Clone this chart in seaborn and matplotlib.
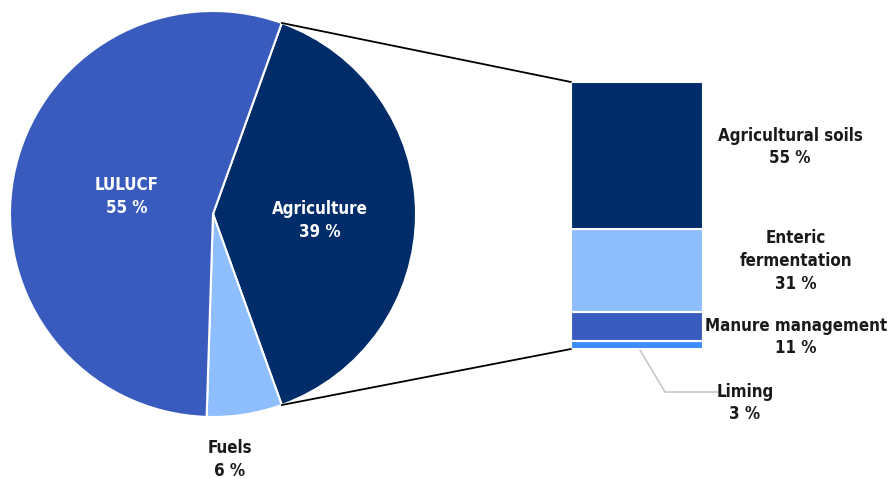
import matplotlib
matplotlib.use("Agg")
import matplotlib.pyplot as plt
from matplotlib.patches import ConnectionPatch
import numpy as np
import seaborn as sns

# Emission shares (%)
sectors = ["Agriculture", "Fuels", "LULUCF"]
sector_share = [39, 6, 55]
sector_colors = ["#002d69", "#8fbeff", "#3a5bbe"]

# Breakdown of agriculture, bottom to top
ag_sources = ["Liming", "Manure management", "Enteric fermentation", "Agricultural soils"]
ag_share = [3, 11, 31, 55]
ag_colors = ["#3c8cfa", "#3a5bbe", "#8fbeff", "#002d69"]

sns.set_theme(style="white")
plt.rcParams["font.family"] = ["DejaVu Sans"]
plt.rcParams["font.stretch"] = "condensed"
plt.rcParams["font.weight"] = "bold"

W, H = 890, 479
fig = plt.figure(figsize=(W / 100, H / 100), dpi=100)

# Pie axes: centre (213, 214) px, radius 203 px
cx, cy, r = 213, 214, 203
ax_pie = fig.add_axes([(cx - r) / W, (H - cy - r) / H, 2 * r / W, 2 * r / H])
ag_angle = sector_share[0] / 100 * 360
start = ag_angle / 2
wedges, _ = ax_pie.pie(sector_share, colors=sector_colors, startangle=start,
                       counterclock=False,
                       wedgeprops=dict(edgecolor="white", linewidth=1.5))
ax_pie.set_xlim(-1, 1)
ax_pie.set_ylim(-1, 1)
ax_pie.set_aspect("equal")
ax_pie.axis("off")

fs = 12.2
txt_kw = dict(ha="center", va="center", fontsize=fs, fontweight="bold",
              fontstretch="condensed", linespacing=1.35)
ax_pie.text(-0.424, 0.084, "LULUCF\n55 %", color="white", **txt_kw)
ax_pie.text(0.527, -0.034, "Agriculture\n39 %", color="white", **txt_kw)
ax_pie.text(0.084, -1.21, "Fuels\n6 %", color="#1a1a1a", clip_on=False, **txt_kw)

# Stacked bar axes: x 571-703 px, y 82-349 px
bx0, bx1, by0, by1 = 571, 703, 82, 349
ax_bar = fig.add_axes([bx0 / W, (H - by1) / H, (bx1 - bx0) / W, (by1 - by0) / H])
bottom = 0
for name, val, col in zip(ag_sources, ag_share, ag_colors):
    ax_bar.bar([0], [val], bottom=bottom, width=1.0, color=col,
               edgecolor="white", linewidth=1.5)
    bottom += val
ax_bar.set_xlim(-0.5, 0.5)
ax_bar.set_ylim(0, sum(ag_share))
ax_bar.axis("off")

# Labels beside the bar (axes-fraction coords)
def ypx(p):
    return (by1 - p) / (by1 - by0)

def xpx(p):
    return (p - bx0) / (bx1 - bx0)

bar_labels = [
    ("Agricultural soils\n55 %", 790, 147),
    ("Enteric\nfermentation\n31 %", 796, 261),
    ("Manure management\n11 %", 796, 337),
    ("Liming\n3 %", 745, 403),
]
for txt, px, py in bar_labels:
    ax_bar.text(xpx(px), ypx(py), txt, transform=ax_bar.transAxes,
                color="#1a1a1a", clip_on=False, **txt_kw)

# Leader line for the small segment
ax_bar.plot([xpx(640), xpx(665), xpx(718)], [ypx(350), ypx(392), ypx(392)],
            transform=ax_bar.transAxes, color="#c8c8c8", lw=1.2, clip_on=False)

# Connector lines from the agriculture wedge to the bar
theta1 = np.deg2rad(start)
theta2 = np.deg2rad(start - ag_angle)
for th, yb in [(theta1, sum(ag_share)), (theta2, 0)]:
    con = ConnectionPatch(xyA=(np.cos(th), np.sin(th)), coordsA=ax_pie.transData,
                          xyB=(-0.5, yb), coordsB=ax_bar.transData,
                          color="black", linewidth=1.3)
    fig.add_artist(con)

fig.savefig("out.png", dpi=100)
